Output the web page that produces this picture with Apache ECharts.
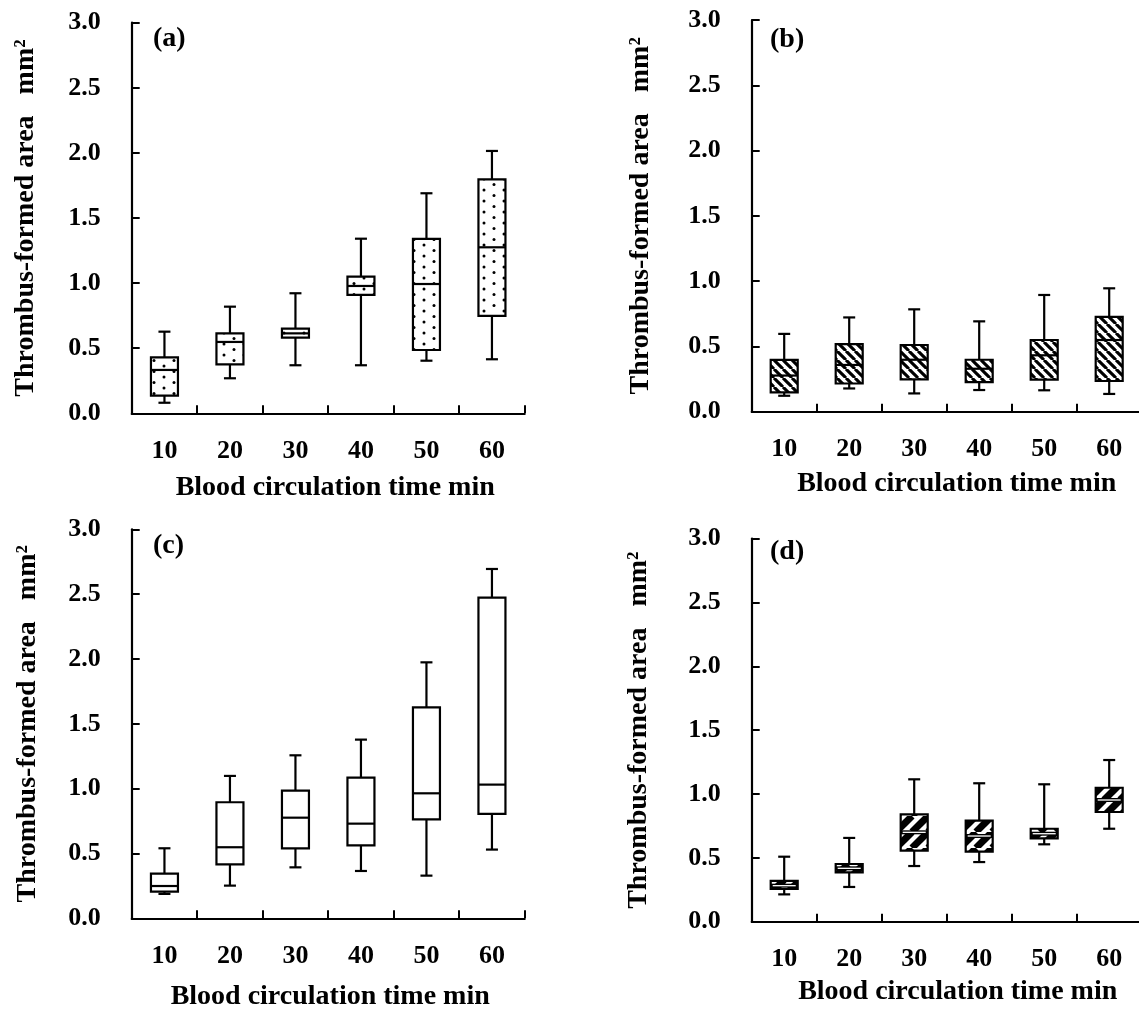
<!DOCTYPE html>
<html>
<head>
<meta charset="utf-8">
<title>Thrombus-formed area</title>
<script src="https://cdn.jsdelivr.net/npm/echarts@6/dist/echarts.min.js"></script>
<style>
  html, body { margin: 0; padding: 0; background: #fff; }
  #main { width: 1139px; height: 1011px; }
</style>
</head>
<body>
<div id="main"></div>
<script>
var categories = ['10', '20', '30', '40', '50', '60'];

// each row: [min, Q1, median, Q3, max]
var boxA = [
  [0.081, 0.135, 0.333, 0.430, 0.627],
  [0.269, 0.376, 0.548, 0.614, 0.819],
  [0.369, 0.581, 0.614, 0.650, 0.922],
  [0.369, 0.909, 0.978, 1.050, 1.341],
  [0.404, 0.486, 0.993, 1.339, 1.690],
  [0.415, 0.748, 1.275, 1.797, 2.015]
];
var boxB = [
  [0.122, 0.148, 0.277, 0.397, 0.596],
  [0.178, 0.216, 0.358, 0.517, 0.722],
  [0.140, 0.248, 0.398, 0.511, 0.784],
  [0.166, 0.227, 0.329, 0.398, 0.692],
  [0.164, 0.245, 0.432, 0.549, 0.894],
  [0.136, 0.235, 0.549, 0.727, 0.945]
];
var boxC = [
  [0.188, 0.206, 0.249, 0.344, 0.540],
  [0.252, 0.416, 0.548, 0.895, 1.098],
  [0.393, 0.540, 0.776, 0.985, 1.257],
  [0.365, 0.563, 0.730, 1.085, 1.378],
  [0.329, 0.763, 0.964, 1.627, 1.974],
  [0.530, 0.805, 1.031, 2.473, 2.694]
];
var boxD = [
  [0.214, 0.256, 0.282, 0.319, 0.509],
  [0.272, 0.387, 0.418, 0.452, 0.656],
  [0.436, 0.556, 0.700, 0.841, 1.115],
  [0.467, 0.548, 0.671, 0.791, 1.084],
  [0.606, 0.653, 0.689, 0.728, 1.076],
  [0.728, 0.859, 0.953, 1.049, 1.266]
];

var FONT = 'Liberation Serif, Times New Roman, serif';

// fill patterns
function dotsPattern() {
  var c = document.createElement('canvas');
  c.width = 20; c.height = 11;
  var g = c.getContext('2d');
  g.fillStyle = '#fff'; g.fillRect(0, 0, 20, 11);
  g.fillStyle = '#000';
  g.beginPath(); g.arc(4, 3, 1.5, 0, Math.PI * 2); g.fill();
  g.beginPath(); g.arc(14, 8.5, 1.5, 0, Math.PI * 2); g.fill();
  return c;
}
function hatchPattern(s, w, dir) {
  var c = document.createElement('canvas');
  c.width = s; c.height = s;
  var g = c.getContext('2d');
  g.fillStyle = '#fff'; g.fillRect(0, 0, s, s);
  g.strokeStyle = '#000'; g.lineWidth = w;
  for (var k = -1; k <= 1; k++) {
    g.beginPath();
    if (dir > 0) { g.moveTo(k * s, s); g.lineTo(k * s + s, 0); }
    else { g.moveTo(k * s, 0); g.lineTo(k * s + s, s); }
    g.stroke();
  }
  return c;
}

var fills = [
  { image: dotsPattern(), repeat: 'repeat' },
  { image: hatchPattern(9, 3.1, -1), repeat: 'repeat' },
  '#fff',
  { image: hatchPattern(16, 7, 1), repeat: 'repeat' }
];

function toData(rows) {
  return rows.map(function (r, i) { return [i].concat(r); });
}

function makeRender(fill, whiteMedian) {
  return function (params, api) {
    var x = api.value(0);
    var lo = api.coord([x, api.value(1)]);
    var q1 = api.coord([x, api.value(2)]);
    var md = api.coord([x, api.value(3)]);
    var q3 = api.coord([x, api.value(4)]);
    var hi = api.coord([x, api.value(5)]);
    var cx = lo[0], hw = 13.5, cw = 6;
    var ln = { stroke: '#000', lineWidth: 2.2 };
    var kids = [
      { type: 'line', shape: { x1: cx, y1: q1[1], x2: cx, y2: lo[1] }, style: ln },
      { type: 'line', shape: { x1: cx, y1: q3[1], x2: cx, y2: hi[1] }, style: ln },
      { type: 'line', shape: { x1: cx - cw, y1: lo[1], x2: cx + cw, y2: lo[1] }, style: ln },
      { type: 'line', shape: { x1: cx - cw, y1: hi[1], x2: cx + cw, y2: hi[1] }, style: ln },
      { type: 'rect', shape: { x: cx - hw, y: q3[1], width: hw * 2, height: q1[1] - q3[1] },
        style: { fill: fill, stroke: '#000', lineWidth: 2.2 } }
    ];
    if (whiteMedian) {
      kids.push({ type: 'line', shape: { x1: cx - hw, y1: md[1], x2: cx + hw, y2: md[1] }, style: { stroke: '#000', lineWidth: 4 } });
      kids.push({ type: 'line', shape: { x1: cx - hw + 2, y1: md[1], x2: cx + hw - 2, y2: md[1] }, style: { stroke: '#fff', lineWidth: 1.3 } });
    } else {
      kids.push({ type: 'line', shape: { x1: cx - hw, y1: md[1], x2: cx + hw, y2: md[1] }, style: ln });
    }
    return { type: 'group', children: kids };
  };
}

var panels = [
  { box: boxA, tag: '(a)', grid: { left: 131.7, top: 22.7, width: 393, height: 390.6 }, yGap: 106, xGap: 74, xShift: 7, tagPos: [153, 25] },
  { box: boxB, tag: '(b)', grid: { left: 751.7, top: 20, width: 390, height: 391.7 }, yGap: 111, xGap: 72, xShift: 10, tagPos: [770, 26] },
  { box: boxC, tag: '(c)', grid: { left: 131.7, top: 529.3, width: 393, height: 389 }, yGap: 104, xGap: 78, xShift: 2, tagPos: [153, 532] },
  { box: boxD, tag: '(d)', grid: { left: 751.7, top: 538.6, width: 390, height: 383.1 }, yGap: 113, xGap: 70, xShift: 11, tagPos: [770, 538] }
];

var axisLine = { show: true, lineStyle: { color: '#000', width: 2.2 } };
var axisTick = { show: true, inside: true, length: 8, lineStyle: { color: '#000', width: 2 } };
var labelStyle = { color: '#000', fontFamily: FONT, fontWeight: 'bold', fontSize: 26 };
var nameStyle = { color: '#000', fontFamily: FONT, fontWeight: 'bold', fontSize: 28 };

var option = { animation: false, backgroundColor: '#fff', grid: [], xAxis: [], yAxis: [], series: [], graphic: [] };

panels.forEach(function (p, i) {
  var g = p.grid;
  option.grid.push({ left: g.left, top: g.top, width: g.width, height: g.height, outerBoundsMode: 'none', containLabel: false });
  option.xAxis.push({
    type: 'category', gridIndex: i, data: categories, boundaryGap: true,
    axisLine: axisLine, axisTick: axisTick,
    axisLabel: Object.assign({ margin: 25, interval: 0 }, labelStyle),
    splitLine: { show: false },
    name: 'Blood circulation time min', nameLocation: 'middle', nameGap: p.xGap,
    nameTextStyle: Object.assign({ verticalAlign: 'middle', align: 'center', padding: [0, 0, 0, p.xShift * 2] }, nameStyle)
  });
  option.yAxis.push({
    type: 'value', gridIndex: i, min: 0, max: 3, interval: 0.5,
    axisLine: axisLine, axisTick: axisTick,
    axisLabel: Object.assign({ margin: 31, formatter: function (v) { return v.toFixed(1); } }, labelStyle),
    splitLine: { show: false },
    name: 'Thrombus-formed area   mm\u00b2', nameLocation: 'middle', nameRotate: 90, nameGap: p.yGap,
    nameTextStyle: Object.assign({ verticalAlign: 'middle', align: 'center' }, nameStyle)
  });
  option.series.push({
    type: 'custom', xAxisIndex: i, yAxisIndex: i,
    encode: { x: 0, y: [1, 2, 3, 4, 5] },
    data: toData(p.box),
    renderItem: makeRender(fills[i], i === 3),
    silent: true
  });
  option.graphic.push({
    type: 'text', left: p.tagPos[0], top: p.tagPos[1],
    style: { text: p.tag, fill: '#000', font: 'bold 28px ' + FONT }
  });
});

var chart = echarts.init(document.getElementById('main'), null, { renderer: 'canvas' });
chart.setOption(option);
</script>
</body>
</html>
